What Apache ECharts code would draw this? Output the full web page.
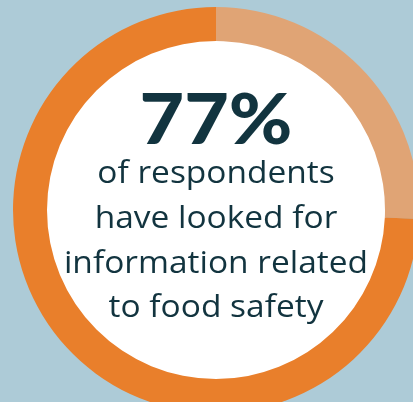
<!DOCTYPE html>
<html><head><meta charset="utf-8">
<script src="https://cdn.jsdelivr.net/npm/echarts@6/dist/echarts.min.js"></script>
<style>html,body{margin:0;padding:0;background:#adcbd7;}#c{width:413px;height:402px;}</style>
</head><body><div id="c"></div>
<script>
const categories = ['Have not looked', 'Have looked'];
const arcValues = [25.7, 74.3];
const headline = '77%';
const bodyLines = ['of respondents', 'have looked for', 'information related', 'to food safety'];
const colors = ['#e0a475', '#e97f2b'];

const chart = echarts.init(document.getElementById('c'), null, {renderer: 'canvas'});
const cx = 216, cy = 210;
const lineY = [174, 219, 264, 308];
chart.setOption({
  backgroundColor: '#adcbd7',
  animation: false,
  series: [
    {
      type: 'pie', silent: true, radius: [0, 170], center: [cx, cy],
      label: {show: false}, labelLine: {show: false},
      data: [{value: 1, itemStyle: {color: '#ffffff'}}]
    },
    {
      type: 'pie', silent: true, radius: [169, 203], center: [cx, cy],
      startAngle: 90, clockwise: true,
      label: {show: false}, labelLine: {show: false},
      itemStyle: {borderWidth: 0},
      data: categories.map((c, i) => ({name: c, value: arcValues[i], itemStyle: {color: colors[i]}}))
    }
  ],
  graphic: {
    elements: [
      {type: 'text', z: 100, x: cx, y: 121, scaleX: 1.1, style: {text: headline, fontFamily: 'Lato', fontWeight: 900, fontSize: 70, fill: '#12343f', align: 'center', verticalAlign: 'middle'}}
    ].concat(bodyLines.map((t, i) => ({
      type: 'text', z: 100, x: cx, y: lineY[i], scaleX: 1.08,
      style: {text: t, fontFamily: 'Open Sans', fontWeight: 400, fontSize: 31, fill: '#12343f', align: 'center', verticalAlign: 'middle'}
    })))
  }
});
</script></body></html>
